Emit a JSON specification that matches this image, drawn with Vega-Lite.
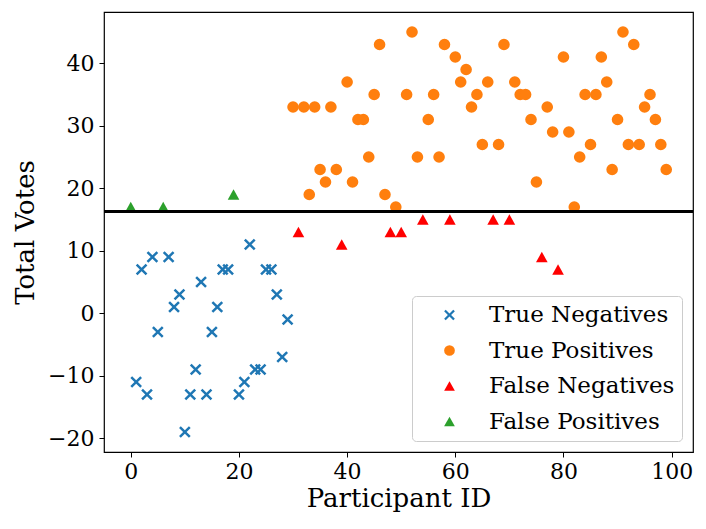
{
  "$schema": "https://vega.github.io/schema/vega-lite/v6.json",
  "width": 589,
  "height": 440,
  "autosize": {"type": "none"},
  "padding": {"left": 104, "top": 12, "right": 13, "bottom": 77},
  "background": "white",
  "config": {
    "font": "DejaVu Serif",
    "view": {"stroke": "black", "strokeWidth": 1.2},
    "axis": {
      "grid": false,
      "domain": false,
      "tickColor": "black",
      "tickSize": 5,
      "tickWidth": 1,
      "labelColor": "black",
      "labelFont": "DejaVu Serif",
      "labelFontSize": 22,
      "titleFont": "DejaVu Serif",
      "titleFontSize": 26,
      "titleFontWeight": "normal",
      "titleColor": "black"
    }
  },
  "data": {
    "values": [
      {"id": 0, "votes": 17, "category": "False Positives"},
      {"id": 1, "votes": -11, "category": "True Negatives"},
      {"id": 2, "votes": 7, "category": "True Negatives"},
      {"id": 3, "votes": -13, "category": "True Negatives"},
      {"id": 4, "votes": 9, "category": "True Negatives"},
      {"id": 5, "votes": -3, "category": "True Negatives"},
      {"id": 6, "votes": 17, "category": "False Positives"},
      {"id": 7, "votes": 9, "category": "True Negatives"},
      {"id": 8, "votes": 1, "category": "True Negatives"},
      {"id": 9, "votes": 3, "category": "True Negatives"},
      {"id": 10, "votes": -19, "category": "True Negatives"},
      {"id": 11, "votes": -13, "category": "True Negatives"},
      {"id": 12, "votes": -9, "category": "True Negatives"},
      {"id": 13, "votes": 5, "category": "True Negatives"},
      {"id": 14, "votes": -13, "category": "True Negatives"},
      {"id": 15, "votes": -3, "category": "True Negatives"},
      {"id": 16, "votes": 1, "category": "True Negatives"},
      {"id": 17, "votes": 7, "category": "True Negatives"},
      {"id": 18, "votes": 7, "category": "True Negatives"},
      {"id": 19, "votes": 19, "category": "False Positives"},
      {"id": 20, "votes": -13, "category": "True Negatives"},
      {"id": 21, "votes": -11, "category": "True Negatives"},
      {"id": 22, "votes": 11, "category": "True Negatives"},
      {"id": 23, "votes": -9, "category": "True Negatives"},
      {"id": 24, "votes": -9, "category": "True Negatives"},
      {"id": 25, "votes": 7, "category": "True Negatives"},
      {"id": 26, "votes": 7, "category": "True Negatives"},
      {"id": 27, "votes": 3, "category": "True Negatives"},
      {"id": 28, "votes": -7, "category": "True Negatives"},
      {"id": 29, "votes": -1, "category": "True Negatives"},
      {"id": 30, "votes": 33, "category": "True Positives"},
      {"id": 31, "votes": 13, "category": "False Negatives"},
      {"id": 32, "votes": 33, "category": "True Positives"},
      {"id": 33, "votes": 19, "category": "True Positives"},
      {"id": 34, "votes": 33, "category": "True Positives"},
      {"id": 35, "votes": 23, "category": "True Positives"},
      {"id": 36, "votes": 21, "category": "True Positives"},
      {"id": 37, "votes": 33, "category": "True Positives"},
      {"id": 38, "votes": 23, "category": "True Positives"},
      {"id": 39, "votes": 11, "category": "False Negatives"},
      {"id": 40, "votes": 37, "category": "True Positives"},
      {"id": 41, "votes": 21, "category": "True Positives"},
      {"id": 42, "votes": 31, "category": "True Positives"},
      {"id": 43, "votes": 31, "category": "True Positives"},
      {"id": 44, "votes": 25, "category": "True Positives"},
      {"id": 45, "votes": 35, "category": "True Positives"},
      {"id": 46, "votes": 43, "category": "True Positives"},
      {"id": 47, "votes": 19, "category": "True Positives"},
      {"id": 48, "votes": 13, "category": "False Negatives"},
      {"id": 49, "votes": 17, "category": "True Positives"},
      {"id": 50, "votes": 13, "category": "False Negatives"},
      {"id": 51, "votes": 35, "category": "True Positives"},
      {"id": 52, "votes": 45, "category": "True Positives"},
      {"id": 53, "votes": 25, "category": "True Positives"},
      {"id": 54, "votes": 15, "category": "False Negatives"},
      {"id": 55, "votes": 31, "category": "True Positives"},
      {"id": 56, "votes": 35, "category": "True Positives"},
      {"id": 57, "votes": 25, "category": "True Positives"},
      {"id": 58, "votes": 43, "category": "True Positives"},
      {"id": 59, "votes": 15, "category": "False Negatives"},
      {"id": 60, "votes": 41, "category": "True Positives"},
      {"id": 61, "votes": 37, "category": "True Positives"},
      {"id": 62, "votes": 39, "category": "True Positives"},
      {"id": 63, "votes": 33, "category": "True Positives"},
      {"id": 64, "votes": 35, "category": "True Positives"},
      {"id": 65, "votes": 27, "category": "True Positives"},
      {"id": 66, "votes": 37, "category": "True Positives"},
      {"id": 67, "votes": 15, "category": "False Negatives"},
      {"id": 68, "votes": 27, "category": "True Positives"},
      {"id": 69, "votes": 43, "category": "True Positives"},
      {"id": 70, "votes": 15, "category": "False Negatives"},
      {"id": 71, "votes": 37, "category": "True Positives"},
      {"id": 72, "votes": 35, "category": "True Positives"},
      {"id": 73, "votes": 35, "category": "True Positives"},
      {"id": 74, "votes": 31, "category": "True Positives"},
      {"id": 75, "votes": 21, "category": "True Positives"},
      {"id": 76, "votes": 9, "category": "False Negatives"},
      {"id": 77, "votes": 33, "category": "True Positives"},
      {"id": 78, "votes": 29, "category": "True Positives"},
      {"id": 79, "votes": 7, "category": "False Negatives"},
      {"id": 80, "votes": 41, "category": "True Positives"},
      {"id": 81, "votes": 29, "category": "True Positives"},
      {"id": 82, "votes": 17, "category": "True Positives"},
      {"id": 83, "votes": 25, "category": "True Positives"},
      {"id": 84, "votes": 35, "category": "True Positives"},
      {"id": 85, "votes": 27, "category": "True Positives"},
      {"id": 86, "votes": 35, "category": "True Positives"},
      {"id": 87, "votes": 41, "category": "True Positives"},
      {"id": 88, "votes": 37, "category": "True Positives"},
      {"id": 89, "votes": 23, "category": "True Positives"},
      {"id": 90, "votes": 31, "category": "True Positives"},
      {"id": 91, "votes": 45, "category": "True Positives"},
      {"id": 92, "votes": 27, "category": "True Positives"},
      {"id": 93, "votes": 43, "category": "True Positives"},
      {"id": 94, "votes": 27, "category": "True Positives"},
      {"id": 95, "votes": 33, "category": "True Positives"},
      {"id": 96, "votes": 35, "category": "True Positives"},
      {"id": 97, "votes": 31, "category": "True Positives"},
      {"id": 98, "votes": 27, "category": "True Positives"},
      {"id": 99, "votes": 23, "category": "True Positives"}
    ]
  },
  "layer": [
    {
      "mark": {"type": "point", "filled": true, "opacity": 1, "size": 135, "strokeWidth": 0},
      "encoding": {
        "x": {
          "field": "id",
          "type": "quantitative",
          "title": "Participant ID",
          "scale": {"domain": [-4.95, 103.95], "nice": false, "zero": false},
          "axis": {"values": [0, 20, 40, 60, 80, 100], "labelPadding": 4, "titlePadding": 3}
        },
        "y": {
          "field": "votes",
          "type": "quantitative",
          "title": "Total Votes",
          "scale": {"domain": [-22.2, 48.2], "nice": false, "zero": false},
          "axis": {"values": [-20, -10, 0, 10, 20, 30, 40], "labelPadding": 5, "titlePadding": 9}
        },
        "color": {
          "field": "category",
          "type": "nominal",
          "scale": {
            "domain": ["True Negatives", "True Positives", "False Negatives", "False Positives"],
            "range": ["#1f77b4", "#ff7f0e", "#ff0000", "#2ca02c"]
          },
          "legend": {
            "title": null,
            "orient": "none",
            "legendX": 308,
            "legendY": 284,
            "fillColor": "white",
            "strokeColor": "#cccccc",
            "cornerRadius": 4,
            "padding": 7.5,
            "symbolOffset": 18.5,
            "labelOffset": 28,
            "rowPadding": 11.5,
            "symbolSize": 115,
            "symbolStrokeWidth": 0,
            "labelFont": "DejaVu Serif",
            "labelFontSize": 23,
            "labelColor": "black",
            "labelLimit": 300
          }
        },
        "shape": {
          "field": "category",
          "type": "nominal",
          "scale": {
            "domain": ["True Negatives", "True Positives", "False Negatives", "False Positives"],
            "range": [
              "M-1,-0.7L-0.7,-1L0,-0.3L0.7,-1L1,-0.7L0.3,0L1,0.7L0.7,1L0,0.3L-0.7,1L-1,0.7L-0.3,0Z",
              "circle",
              "M0,-0.9L1,0.9L-1,0.9Z",
              "M0,-0.9L1,0.9L-1,0.9Z"
            ]
          },
          "legend": null
        }
      }
    },
    {
      "mark": {"type": "rule", "color": "black", "strokeWidth": 2},
      "encoding": {"y": {"datum": 16.3}}
    }
  ]
}
